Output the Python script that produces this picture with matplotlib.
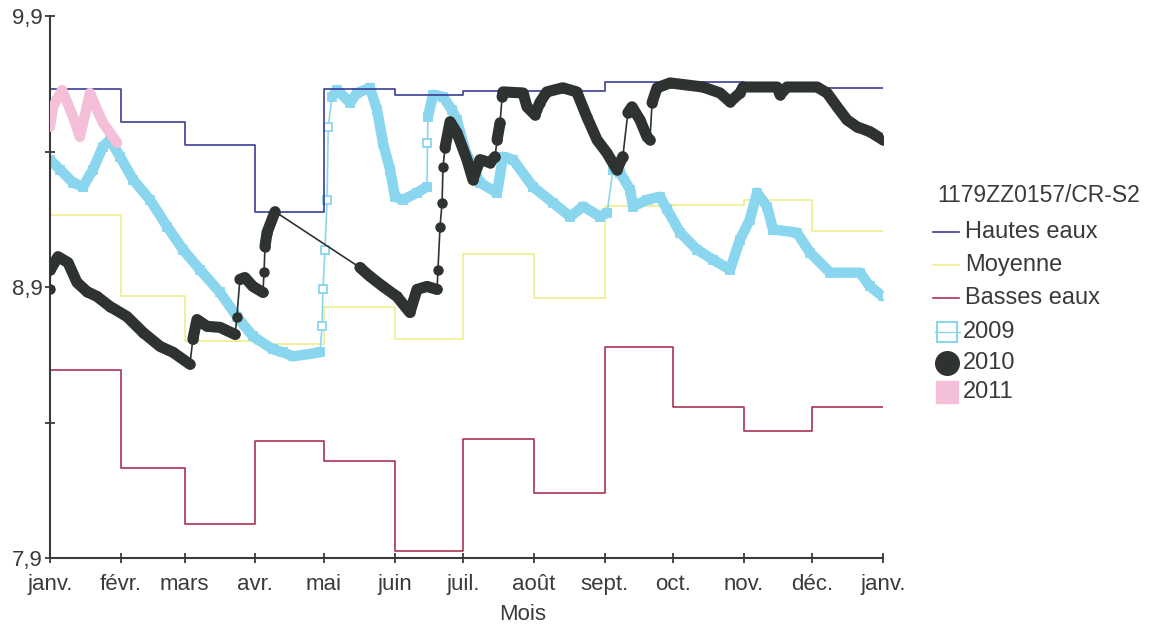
import numpy as np
import matplotlib.pyplot as plt
from matplotlib.lines import Line2D

plt.rcParams['font.family'] = ['Liberation Sans', 'DejaVu Sans']

# axe des x : jour de l'année
mois = ['janv.', 'févr.', 'mars', 'avr.', 'mai', 'juin', 'juil.', 'août',
        'sept.', 'oct.', 'nov.', 'déc.', 'janv.']
debut_mois = [0, 31, 59, 90, 120, 151, 181, 212, 243, 273, 304, 334, 365]

# niveaux mensuels
hautes_eaux = [9.631, 9.510, 9.425, 9.178, 9.631, 9.609, 9.625, 9.625,
               9.658, 9.655, 9.640, 9.634]
moyenne = [9.167, 8.866, 8.700, 8.688, 8.827, 8.707, 9.020, 8.860,
           9.198, 9.204, 9.222, 9.106]
basses_eaux = [8.592, 8.231, 8.025, 8.331, 8.257, 7.926, 8.338, 8.139,
               8.677, 8.456, 8.368, 8.456]

# chroniques
j2009 = [0, 4.4, 10.1, 14.5, 18.8, 23.2, 26.3, 30.7, 36.4, 43.8, 51.3, 58.3,
         65.7, 74.5, 81.9, 88.9, 97.7, 102.1, 106.5, 118.3, 119.2, 119.6,
         120.5, 121.4, 121.9, 123.6, 125.8, 131.5, 134.5, 140.2, 143.3, 145.9,
         149.0, 151.2, 154.7, 160.8, 165.2, 165.4, 165.6, 167.8, 172.2, 176.1,
         178.3, 181.8, 188.4, 195.9, 198.5, 202.9, 211.6, 220.4, 227.9, 233.6,
         241.0, 244.1, 246.7, 249.8, 254.2, 255.5, 261.6, 267.3, 270.4, 276.1,
         283.5, 290.5, 298.0, 302.3, 306.7, 309.8, 314.2, 316.8, 327.3, 333.0,
         341.8, 354.9, 359.3, 365.0]
v2009 = [9.370, 9.333, 9.285, 9.270, 9.333, 9.418, 9.443, 9.381, 9.296, 9.222,
         9.123, 9.038, 8.964, 8.880, 8.791, 8.718, 8.670, 8.659, 8.644, 8.659,
         8.755, 8.891, 9.038, 9.222, 9.491, 9.602, 9.627, 9.580, 9.616, 9.635,
         9.554, 9.432, 9.333, 9.233, 9.222, 9.248, 9.270, 9.432, 9.528, 9.609,
         9.602, 9.554, 9.517, 9.407, 9.285, 9.248, 9.381, 9.370, 9.270, 9.211,
         9.160, 9.197, 9.160, 9.174, 9.333, 9.322, 9.259, 9.197, 9.222, 9.233,
         9.186, 9.101, 9.038, 9.001, 8.964, 9.075, 9.149, 9.248, 9.197, 9.112,
         9.101, 9.027, 8.953, 8.953, 8.902, 8.865]

j2010 = [0, 0.2, 3.5, 7.9, 11.8, 16.2, 20.6, 26.3, 33.7, 40.8, 48.2, 53.9,
         61.3, 62.6, 64.4, 68.8, 74.5, 81.1, 81.9, 83.2, 85.4, 88.9, 93.3,
         93.8, 94.2, 95.1, 98.6, 135.8, 140.2, 145.9, 152.0, 157.7, 160.8,
         165.2, 169.6, 170.0, 170.9, 171.8, 172.2, 173.1, 175.3, 178.3, 182.7,
         185.3, 188.4, 192.8, 195.0, 195.9, 197.2, 198.1, 198.5, 207.3, 209.0,
         212.5, 214.6, 217.7, 224.7, 230.8, 235.2, 239.7, 244.0, 248.4, 251.0,
         253.2, 255.0, 258.5, 261.6, 262.9, 263.8, 266.0, 271.7, 286.1, 293.6,
         298.0, 302.3, 303.7, 318.6, 319.9, 322.9, 336.1, 340.5, 344.9, 349.2,
         353.6, 359.3, 365.0]
v2010 = [8.891, 8.964, 9.012, 8.990, 8.917, 8.883, 8.865, 8.828, 8.791, 8.732,
         8.681, 8.659, 8.615, 8.707, 8.780, 8.755, 8.751, 8.725, 8.791, 8.928,
         8.935, 8.902, 8.880, 8.957, 9.049, 9.101, 9.178, 8.972, 8.939, 8.902,
         8.865, 8.806, 8.891, 8.902, 8.891, 8.964, 9.123, 9.211, 9.344, 9.414,
         9.510, 9.469, 9.370, 9.296, 9.370, 9.359, 9.381, 9.443, 9.506, 9.602,
         9.620, 9.616, 9.565, 9.535, 9.580, 9.620, 9.635, 9.620, 9.528, 9.443,
         9.395, 9.333, 9.381, 9.543, 9.565, 9.517, 9.454, 9.443, 9.580, 9.635,
         9.653, 9.638, 9.616, 9.583, 9.616, 9.638, 9.638, 9.609, 9.638, 9.638,
         9.616, 9.565, 9.517, 9.491, 9.473, 9.443]

j2011 = [0, 1.3, 5.3, 10.1, 13.1, 17.5, 20.6, 23.2, 29.4]
v2011 = [9.491, 9.565, 9.627, 9.528, 9.454, 9.616, 9.554, 9.506, 9.432]

bleu = '#3c3c96'
jaune = '#eeee8c'
rouge = '#aa3452'
cyan = '#8ad6ef'
noir = '#2e3231'
rose = '#f3bfd9'
gris = '#3a3a3a'


def trace_epaisse(ax, j, v, **kw):
    # bande épaisse là où les mesures sont serrées (pas de saut ni de lacune)
    j = np.array(j)
    v = np.array(v)
    dj = np.diff(j)
    dv = np.abs(np.diff(v))
    coupe = (dj > 20) | (dv > 0.06 * np.maximum(dj, 0.5))
    morceau = [0]
    for i in range(len(j) - 1):
        if coupe[i]:
            if len(morceau) > 1:
                ax.plot(j[morceau], v[morceau], **kw)
            morceau = [i + 1]
        else:
            morceau.append(i + 1)
    if len(morceau) > 1:
        ax.plot(j[morceau], v[morceau], **kw)


fig = plt.figure(figsize=(11.56, 6.27), dpi=100)
ax = fig.add_axes([50 / 1156, 1 - 558 / 627, 833 / 1156, 542 / 627])

ax.step(debut_mois, moyenne + moyenne[-1:], where='post', color=jaune, lw=1.2, zorder=1)
ax.step(debut_mois, basses_eaux + basses_eaux[-1:], where='post', color=rouge, lw=1.2, zorder=1)

# 2009
ax.plot(j2009, v2009, '-', color=cyan, lw=1.2, marker='s', ms=5.5,
        mfc='white', mec=cyan, mew=1.3, zorder=2)
trace_epaisse(ax, j2009, v2009, color=cyan, lw=7.5, solid_capstyle='round',
              solid_joinstyle='round', zorder=2)

ax.step(debut_mois, hautes_eaux + hautes_eaux[-1:], where='post', color=bleu, lw=1.2, zorder=2.5)

# 2010
ax.plot(j2010, v2010, '-', color=noir, lw=1.2, marker='o', ms=6.5,
        mfc=noir, mec=noir, zorder=3)
trace_epaisse(ax, j2010, v2010, color=noir, lw=8, solid_capstyle='round',
              solid_joinstyle='round', zorder=3)

# 2011
trace_epaisse(ax, j2011, v2011, color=rose, lw=7.5, solid_capstyle='round',
              solid_joinstyle='round', zorder=4)

ax.set_xlim(0, 365)
ax.set_ylim(7.9, 9.9)
ax.set_xticks(debut_mois)
ax.set_xticklabels(mois, fontsize=16, color=gris)
ax.set_yticks([7.9, 8.9, 9.9])
ax.set_yticklabels(['7,9', '8,9', '9,9'], fontsize=16, color=gris)
ax.set_yticks([8.4, 9.4], minor=True)
ax.tick_params(axis='both', which='both', direction='inout', length=7,
               width=1.3, color=gris, pad=2)
ax.tick_params(axis='x', pad=8)
for s in ['top', 'right']:
    ax.spines[s].set_visible(False)
for s in ['left', 'bottom']:
    ax.spines[s].set_color(gris)
    ax.spines[s].set_linewidth(1.5)

ax.set_xlabel('Mois', fontsize=16, color=gris)
ax.xaxis.set_label_coords(0.567, -0.085)

# légende dessinée à la main (coordonnées figure en pixels)
W, H = 1156, 627
fig.text(937 / W, 1 - 195 / H, '1179ZZ0157/CR-S2', fontsize=16.5, color=gris,
         ha='left', va='center')
noms = ['Hautes eaux', 'Moyenne', 'Basses eaux', '2009', '2010', '2011']
y_leg = [232, 265, 298, 332, 363, 392]
styles = [
    dict(color=bleu, lw=1.2),
    dict(color=jaune, lw=1.2),
    dict(color=rouge, lw=1.2),
    dict(color=cyan, lw=1, marker='s', ms=15, mfc='white', mec=cyan, mew=1.5),
    dict(color=noir, lw=0, marker='o', ms=17),
    dict(color=rose, lw=0, marker='s', ms=16),
]
for nom, yl, st in zip(noms, y_leg, styles):
    yf = 1 - yl / H
    if st.get('marker'):
        fig.add_artist(Line2D([947 / W], [yf], transform=fig.transFigure, **st))
        if st['lw'] > 0:
            fig.add_artist(Line2D([935 / W, 960 / W], [yf, yf],
                                  transform=fig.transFigure, color=st['color'], lw=1))
        xt = 963
    else:
        fig.add_artist(Line2D([933 / W, 959 / W], [yf, yf],
                              transform=fig.transFigure, **st))
        xt = 965
    fig.text(xt / W, yf, nom, fontsize=17, color=gris, ha='left', va='center')

fig.savefig('out.png', dpi=100)
